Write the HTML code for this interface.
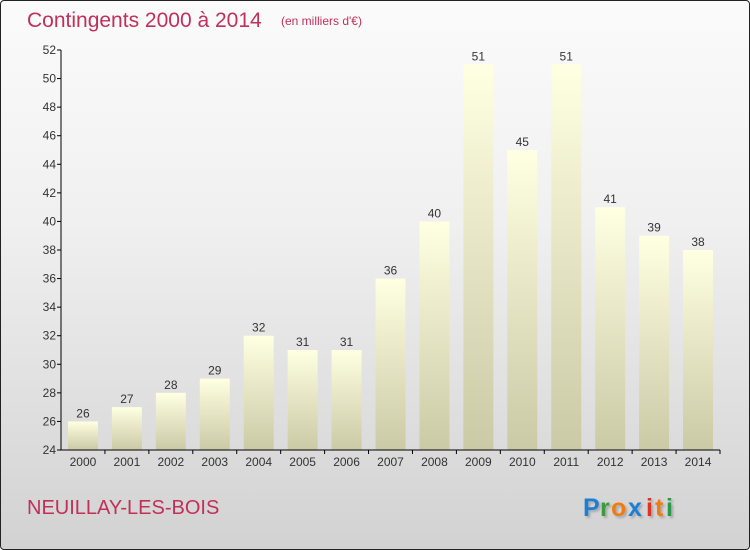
<!DOCTYPE html>
<html><head><meta charset="utf-8"><style>
body{margin:0;width:750px;height:550px;overflow:hidden;font-family:"Liberation Sans",sans-serif}
#bg{position:absolute;left:0;top:0;width:748px;height:548px;border:1px solid #222;border-radius:4px;background:linear-gradient(#fbfbfb,#f0f0f0 40%,#d2d2d2)}
</style></head><body>
<div id="bg"></div>
<svg id="c" width="750" height="550" style="position:absolute;left:0;top:0">
<defs><linearGradient id="bg1" x1="0" y1="0" x2="0" y2="1"><stop offset="0" stop-color="#ffffe2"/><stop offset="1" stop-color="#cacaa6"/></linearGradient>
<filter id="sh"><feDropShadow dx="2" dy="2" stdDeviation="1" flood-color="#888" flood-opacity="0.6"/></filter></defs>
<text x="27" y="27" font-size="21" fill="#c0305a">Contingents 2000 à 2014</text>
<text x="281" y="25" font-size="12" fill="#c0305a">(en milliers d'€)</text>
<text x="27" y="514" font-size="20" fill="#c0305a">NEUILLAY-LES-BOIS</text>
<g filter="url(#sh)" font-size="25" font-weight="bold">
<text x="583" y="516" fill="#1a7fd6">P</text><text x="600" y="516" fill="#3a9a3a">r</text><text x="611" y="516" fill="#f07c10">o</text><text x="628" y="516" fill="#1a7fd6">x</text><text x="646" y="516" fill="#e03020">i</text><text x="655" y="516" fill="#f07c10">t</text><text x="666" y="516" fill="#2a9a4a">i</text></g>
<g id="plot"></g>
</svg>
<script>
const years=["2000","2001","2002","2003","2004","2005","2006","2007","2008","2009","2010","2011","2012","2013","2014"];
const values=[26,27,28,29,32,31,31,36,40,51,45,51,41,39,38];
const yTicks=[24,26,28,30,32,34,36,38,40,42,44,46,48,50,52];
const ymin=24,ymax=52,pTop=50,pBot=450,x0=61,x1=720;
const y=v=>pBot-(v-ymin)/(ymax-ymin)*(pBot-pTop);
const step=(x1-x0)/years.length;
const xc=i=>x0+step*(i+0.5);
const g=document.getElementById('plot');const NS='http://www.w3.org/2000/svg';
function mk(t,a,txt){const e=document.createElementNS(NS,t);for(const k in a)e.setAttribute(k,a[k]);if(txt!==undefined)e.textContent=txt;g.appendChild(e);return e;}
values.forEach((v,i)=>{
const r=mk('rect',{x:xc(i)-15,y:y(v),width:30,height:pBot-y(v),fill:'url(#bg1)'});


const t=mk('text',{x:xc(i),y:y(v)-4,'font-size':12,fill:'#333','text-anchor':'middle'},v);


const xl=mk('text',{x:xc(i),y:466,'font-size':12,fill:'#333','text-anchor':'middle'},years[i]);


mk('line',{x1:x0+step*(i+1),x2:x0+step*(i+1),y1:pBot,y2:pBot+4,stroke:'#000'});
});
yTicks.forEach(v=>{
mk('line',{x1:x0-4,x2:x0,y1:y(v),y2:y(v),stroke:'#000'});
const t=mk('text',{x:x0-5,y:y(v)+4,'font-size':12,fill:'#333','text-anchor':'end'},v);


});
const ya=mk('line',{x1:x0,x2:x0,y1:pTop,y2:pBot,stroke:'#000'});


const xa=mk('line',{x1:x0,x2:x1,y1:pBot,y2:pBot,stroke:'#000'});


</script>
</body></html>
